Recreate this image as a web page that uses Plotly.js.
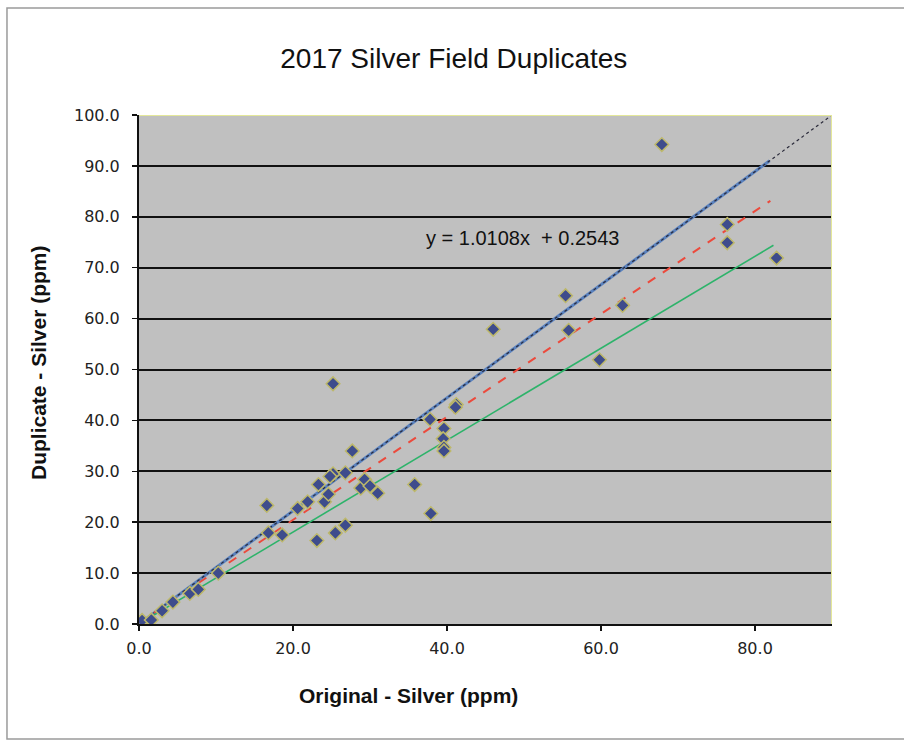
<!DOCTYPE html>
<html>
<head>
<meta charset="utf-8">
<script src="https://cdn.plot.ly/plotly-3.0.1.min.js"></script>
<style>
html,body{margin:0;padding:0;background:#fff;}
#chart{width:904px;height:743px;}
</style>
</head>
<body>
<div id="chart"></div>
<script>
// Sample pairs
const originalAg = [0.4, 1.6, 3.0, 4.4, 6.6, 7.7, 10.3, 16.6, 16.8, 18.6, 20.6, 21.9, 23.1, 23.3, 24.1, 24.6, 25.2, 24.8, 25.2, 25.5, 26.8, 26.8, 27.7, 28.8, 29.3, 30.0, 31.0, 35.8, 37.8, 37.9, 39.6, 39.5, 39.6, 39.6, 41.2, 41.1, 46.0, 55.4, 55.8, 59.8, 62.8, 67.9, 76.4, 76.4, 82.8];
const duplicateAg = [0.7, 0.8, 2.6, 4.3, 6.0, 6.8, 10.0, 23.3, 17.9, 17.5, 22.7, 24.0, 16.4, 27.4, 24.0, 25.5, 29.5, 29.0, 47.2, 17.9, 29.7, 19.4, 34.0, 26.7, 28.4, 27.1, 25.7, 27.4, 40.2, 21.7, 38.4, 36.4, 34.7, 34.0, 43.1, 42.6, 57.9, 64.5, 57.7, 51.9, 62.6, 94.2, 78.5, 74.9, 71.9];

// Reference / trend lines (endpoints)
const diagX = [0, 90];
const diagY = [0, 100];
const upperX = [0, 81.9];
const upperY = [0, 91.0];
const trendX = [0, 82.0];
const trendY = [0.2543, 83.14];
const lowerX = [0, 82.4];
const lowerY = [0, 74.4];

const yTicks = [0,10,20,30,40,50,60,70,80,90,100];
const yTickText = ['0.0','10.0','20.0','30.0','40.0','50.0','60.0','70.0','80.0','90.0','100.0'];
const xTicks = [0,20,40,60,80];
const xTickText = ['0.0','20.0','40.0','60.0','80.0'];

const traces = [
  {x: upperX, y: upperY, mode:'lines', line:{color:'#5a82bf', width:3}, hoverinfo:'skip'},
  {x: diagX, y: diagY, mode:'lines', line:{color:'#2a2a3a', width:1.2, dash:'dot'}, hoverinfo:'skip'},
  {x: lowerX, y: lowerY, mode:'lines', line:{color:'#2db36a', width:1.6}, hoverinfo:'skip'},
  {x: trendX, y: trendY, mode:'lines', line:{color:'#ec4a3c', width:2, dash:'dash'}, hoverinfo:'skip'},
  {x: originalAg, y: duplicateAg, mode:'markers', type:'scatter',
   marker:{symbol:'diamond', size:10.5, color:'#3e4c8c', line:{color:'#bdb86a', width:1.5}}}
];

const tickFont = {size:16, color:'#222', family:'DejaVu Sans, sans-serif'};

const layout = {
  width: 904, height: 743,
  paper_bgcolor:'#ffffff', plot_bgcolor:'#c0c0c0',
  showlegend:false,
  margin:{l:139, r:72, t:115, b:119, pad:0},
  font:{family:'Liberation Sans, Arial, sans-serif', color:'#222'},
  title:{text:'2017 Silver Field Duplicates', x:0.502, xanchor:'center', y:0.922, yanchor:'middle',
         font:{size:28, color:'#111', family:'Liberation Sans, Arial, sans-serif'}},
  xaxis:{range:[0,90], tickvals:xTicks, ticktext:xTickText, showgrid:false, zeroline:false,
         showline:true, linecolor:'#111', linewidth:2, ticks:'outside', ticklen:5, tickcolor:'#111', tickwidth:1.5,
         tickfont:tickFont, ticklabelstandoff:4},
  yaxis:{range:[0,100], tickvals:yTicks, ticktext:yTickText, showgrid:true, gridcolor:'#111', gridwidth:2,
         zeroline:false, showline:true, linecolor:'#111', linewidth:2, ticks:'outside', ticklen:5, tickcolor:'#111', tickwidth:1.5,
         tickfont:tickFont, ticklabelstandoff:9},
  shapes:[
    {type:'line', xref:'x', yref:'y', x0:0, x1:90, y0:100, y1:100, line:{color:'#e4e89a', width:2}},
    {type:'line', xref:'x', yref:'y', x0:90, x1:90, y0:0, y1:100, line:{color:'#e4e89a', width:2}},
    {type:'rect', xref:'paper', yref:'paper', x0:-0.1905, x1:1.12, y0:-0.226, y1:1.210, line:{color:'#9a9a9a', width:1.5}, layer:'below'}
  ],
  annotations:[
    {xref:'x', yref:'y', x:49.9, y:75.8, text:'y = 1.0108x  + 0.2543', showarrow:false,
     font:{size:20, color:'#111'}, xanchor:'center', yanchor:'middle'},
    {xref:'paper', yref:'paper', x:(408-139)/693, y:(624-695)/509, text:'<b>Original - Silver (ppm)</b>', showarrow:false,
     font:{size:21, color:'#111'}, xanchor:'center', yanchor:'middle'},
    {xref:'paper', yref:'paper', x:(38-139)/693, y:(624-363)/509, text:'<b>Duplicate - Silver (ppm)</b>', showarrow:false,
     textangle:-90, font:{size:21, color:'#111'}, xanchor:'center', yanchor:'middle'}
  ]
};

Plotly.newPlot('chart', traces, layout, {displayModeBar:false, staticPlot:true});
</script>
</body>
</html>
